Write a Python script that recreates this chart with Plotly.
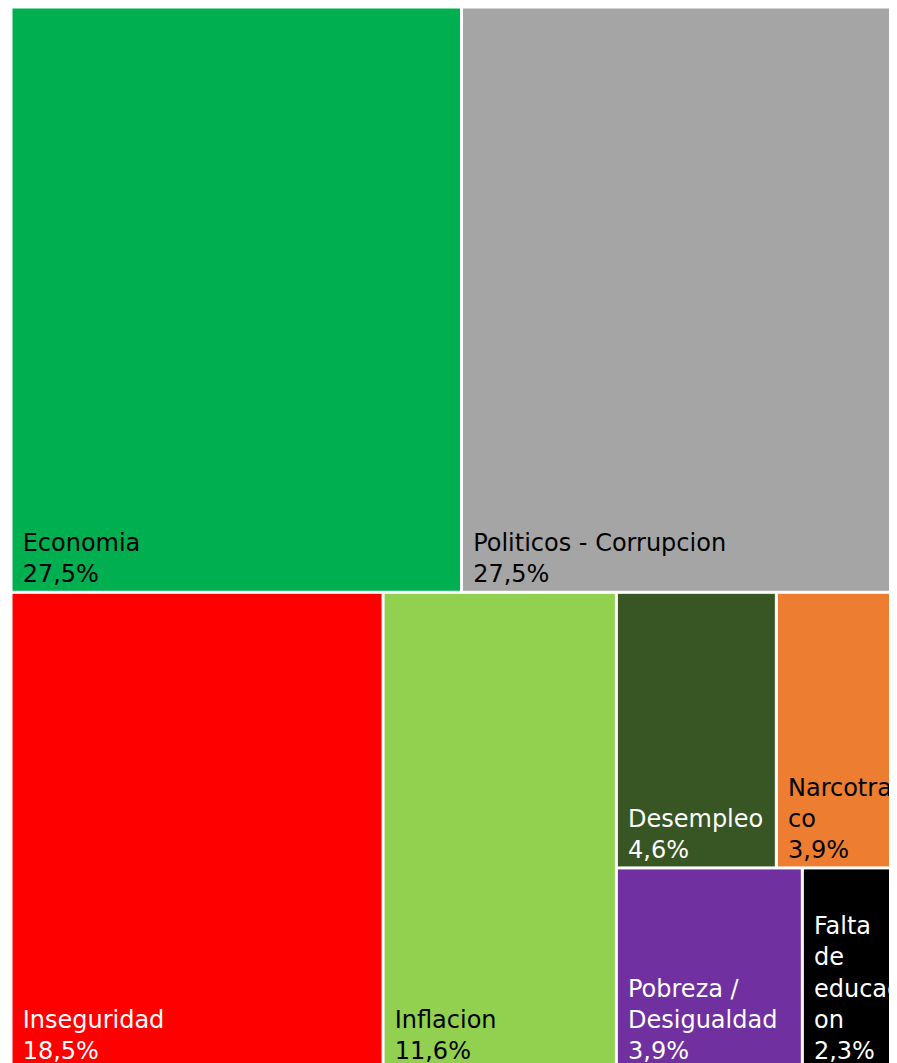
import plotly.graph_objects as go

labels = ["Economia", "Politicos - Corrupcion", "Inseguridad", "Inflacion",
          "Desempleo", "Narcotrafico", "Pobreza / Desigualdad", "Falta de educacion"]
display = ["Economia", "Politicos - Corrupcion", "Inseguridad", "Inflacion",
           "Desempleo", "Narcotrafi<br>\u00a0co", "Pobreza /<br>\u00a0Desigualdad",
           "Falta<br>\u00a0de<br>\u00a0educaci<br>\u00a0on"]
values = [27.5, 27.5, 18.5, 11.6, 4.6, 3.9, 3.9, 2.3]
colors = ["#00AF50", "#A5A5A5", "#FF0000", "#92D050", "#375623", "#ED7D31", "#7030A0", "#000000"]
text_colors = ["#000000", "#000000", "#FFFFFF", "#000000", "#FFFFFF", "#000000", "#FFFFFF", "#FFFFFF"]

fig = go.Figure(go.Treemap(
    labels=labels,
    parents=[""] * len(labels),
    values=values,
    text=display,
    texttemplate="\u00a0%{text}<br>\u00a0%{value:.1f}%",
    textposition="bottom left",
    textfont=dict(family="DejaVu Sans", size=24, color=text_colors),
    marker=dict(colors=colors, line=dict(width=1, color="white"), pad=dict(t=0, l=0, r=0, b=0)),
    tiling=dict(packing="squarify", squarifyratio=1.048, pad=2),
    pathbar=dict(visible=False),
    sort=True,
    hoverinfo="skip",
))

fig.update_layout(
    width=903, height=1060,
    margin=dict(l=4, r=0, t=0, b=0),
    separators=",.",
    uniformtext=dict(minsize=24, mode="show"),
    paper_bgcolor="white",
)

fig.write_html("out.html")
